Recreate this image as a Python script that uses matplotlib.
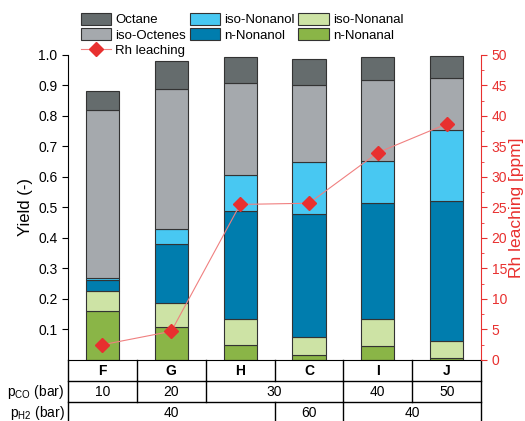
import numpy as np
import matplotlib.pyplot as plt
from matplotlib.lines import Line2D

plt.rcParams['font.family'] = ['Liberation Sans', 'DejaVu Sans']
plt.rcParams['mathtext.fontset'] = 'custom'
plt.rcParams['mathtext.rm'] = 'Liberation Sans'

runs = ['F', 'G', 'H', 'C', 'I', 'J']
p_co = ['10', '20', '30', '30', '40', '50']
p_h2 = ['40', '40', '40', '60', '40', '40']

n_nonanal = [0.160, 0.108, 0.050, 0.018, 0.047, 0.006]
iso_nonanal = [0.066, 0.078, 0.084, 0.058, 0.087, 0.055]
n_nonanol = [0.035, 0.193, 0.353, 0.403, 0.382, 0.461]
iso_nonanol = [0.007, 0.049, 0.118, 0.169, 0.138, 0.231]
iso_octenes = [0.553, 0.462, 0.304, 0.253, 0.265, 0.173]
octane = [0.062, 0.090, 0.084, 0.085, 0.074, 0.071]

rh_leaching = [2.5, 4.7, 25.5, 25.7, 34.0, 38.7]

layers = [
    ('n-Nonanal', n_nonanal, '#8ab547'),
    ('iso-Nonanal', iso_nonanal, '#cde3a5'),
    ('n-Nonanol', n_nonanol, '#007dae'),
    ('iso-Nonanol', iso_nonanol, '#48c8f2'),
    ('iso-Octenes', iso_octenes, '#a5a9ad'),
    ('Octane', octane, '#656c6d'),
]

fig = plt.figure(figsize=(5.25, 4.21), dpi=100)
ax = fig.add_axes([0.1295, 0.1449, 0.787, 0.7245])

x = np.arange(len(runs))
bottom = np.zeros(len(runs))
handles = {}
for name, vals, col in layers:
    b = ax.bar(x, vals, 0.48, bottom=bottom, color=col, edgecolor='#333333', linewidth=0.8, label=name)
    handles[name] = b
    bottom += np.array(vals)

ax.set_xlim(-0.5, 5.5)
ax.set_ylim(0, 1.0)
ax.set_yticks(np.arange(0.1, 1.01, 0.1))
ax.set_yticklabels(['%.1f' % v for v in np.arange(0.1, 1.01, 0.1)], fontsize=10)
ax.set_xticks([])
ax.set_ylabel('Yield (-)', fontsize=12, labelpad=4)
ax.tick_params(axis='y', direction='out', length=4)
ax.spines['top'].set_visible(False)
ax.spines['right'].set_visible(False)

ax2 = ax.twinx()
ax2.plot(x, rh_leaching, color='#f08080', lw=0.8, marker='D', ms=7,
         mfc='#e8302f', mec='#e8302f', label='Rh leaching')
ax2.set_ylim(0, 50)
ax2.set_yticks(np.arange(0, 51, 5))
ax2.set_yticks(np.arange(2.5, 50, 5), minor=True)
ax2.tick_params(axis='y', which='both', colors='#e8302f', labelsize=10, direction='out')
ax2.tick_params(axis='y', which='major', length=4)
ax2.tick_params(axis='y', which='minor', length=2)
ax2.spines['right'].set_color('#e8302f')
ax2.spines['top'].set_visible(False)
ax2.spines['left'].set_visible(False)
ax2.spines['bottom'].set_visible(False)
ax2.set_ylabel('Rh leaching [ppm]', color='#e8302f', fontsize=12.5, labelpad=1)

# table below the axis
tr = ax.get_xaxis_transform()
rh = 0.0689
rows = [-rh * 0.5, -rh * 1.5, -rh * 2.5]
lkw = dict(color='black', lw=1.0, transform=tr, clip_on=False)
for k in range(1, 3):
    ax.plot([-0.5, 5.5], [-rh * k, -rh * k], **lkw)
ax.plot([-0.5, -0.5], [0, -rh * 3.2], **lkw)
ax.plot([5.5, 5.5], [0, -rh * 3.2], **lkw)
for b in [0.5, 1.5, 2.5, 3.5, 4.5]:
    ax.plot([b, b], [0, -rh], **lkw)
for b in [0.5, 1.5, 3.5, 4.5]:
    ax.plot([b, b], [-rh, -2 * rh], **lkw)
for b in [2.5, 3.5]:
    ax.plot([b, b], [-2 * rh, -3.2 * rh], **lkw)

for i, r in enumerate(runs):
    ax.text(i, rows[0], r, transform=tr, ha='center', va='center', fontsize=10, fontweight='bold')
ax.text(0, rows[1], p_co[0], transform=tr, ha='center', va='center', fontsize=10)
ax.text(1, rows[1], p_co[1], transform=tr, ha='center', va='center', fontsize=10)
ax.text(2.5, rows[1], p_co[2], transform=tr, ha='center', va='center', fontsize=10)
ax.text(4, rows[1], p_co[4], transform=tr, ha='center', va='center', fontsize=10)
ax.text(5, rows[1], p_co[5], transform=tr, ha='center', va='center', fontsize=10)
ax.text(1, rows[2], p_h2[0], transform=tr, ha='center', va='center', fontsize=10)
ax.text(3, rows[2], p_h2[3], transform=tr, ha='center', va='center', fontsize=10)
ax.text(4.5, rows[2], p_h2[4], transform=tr, ha='center', va='center', fontsize=10)
ax.text(-0.55, rows[1], r'p$_\mathregular{CO}$ (bar)', transform=tr, ha='right', va='center', fontsize=10)
ax.text(-0.55, rows[2], r'p$_\mathregular{H2}$ (bar)', transform=tr, ha='right', va='center', fontsize=10)

rh_handle = Line2D([], [], color='#f08080', lw=0.8, marker='D', ms=7, mfc='#e8302f', mec='#e8302f')
order = ['Octane', 'iso-Octenes', None, 'iso-Nonanol', 'n-Nonanol', 'iso-Nonanal', 'n-Nonanal']
hs = [rh_handle if n is None else handles[n] for n in order]
ls = ['Rh leaching' if n is None else n for n in order]
fig.legend(hs, ls, loc='upper left', bbox_to_anchor=(0.141, 0.985), ncol=3, frameon=False,
           fontsize=9.5, borderpad=0, handlelength=2.3, handleheight=1.0, handletextpad=0.3,
           columnspacing=0.3, labelspacing=0.15)

fig.savefig('out.png', dpi=100)
